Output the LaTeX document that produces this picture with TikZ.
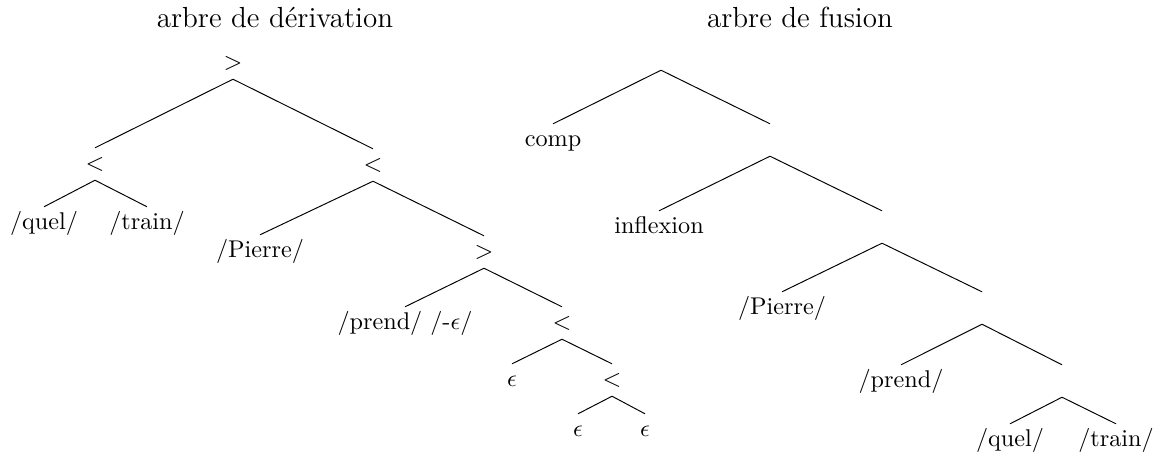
\documentclass[tikz,border=0pt]{standalone}
\usepackage{amsmath,amssymb}
\usepackage{tikz}

\tikzset{lab/.style={inner sep=1.5pt,text height=7.5pt,text depth=2.5pt}}

\begin{document}
\begin{tikzpicture}[x=0.4132pt,y=-0.4132pt]
\useasboundingbox (0,0) rectangle (1161,453);
% titres
\node[anchor=base] (titreD) at (275,27) {\large arbre de dérivation};
\node[anchor=base] (titreF) at (800,27) {\large arbre de fusion};
% arbre de derivation
\node[lab] (d0) at (233,63) {$>$};
\node[lab] (d1) at (95,164) {$<$};
\node[lab] (d2) at (373,165) {$<$};
\node[lab] (d11) at (44,223) {/quel/};
\node[lab] (d12) at (147,223) {/train/};
\node[lab] (d21) at (260,251) {/Pierre/};
\node[lab] (d22) at (484,252) {$>$};
\node[lab] (d221) at (405,323) {/prend/ /-$\epsilon$/};
\node[lab] (d222) at (562,323) {$<$};
\node[lab] (d2221) at (512,380) {$\epsilon$};
\node[lab] (d2222) at (612,380) {$<$};
\node[lab] (d22221) at (578,430) {$\epsilon$};
\node[lab] (d22222) at (645,430) {$\epsilon$};
% arbre de fusion
\node[lab] (f0) at (661,54) {};
\node[lab] (f1) at (553,140) {comp};
\node[lab] (f2) at (770,140) {};
\node[lab] (f3) at (659,227) {inflexion};
\node[lab] (f4) at (882,227) {};
\node[lab] (f5) at (782,308) {/Pierre/};
\node[lab] (f6) at (982,308) {};
\node[lab] (f7) at (901,381) {/prend/};
\node[lab] (f8) at (1062,381) {};
\node[lab] (f9) at (1010,440) {/quel/};
\node[lab] (f10) at (1116,440) {/train/};
% branches
\foreach \a/\b in {d0/d1,d0/d2,d1/d11,d1/d12,d2/d21,d2/d22,d22/d221,d22/d222,
  d222/d2221,d222/d2222,d2222/d22221,d2222/d22222,
  f0/f1,f0/f2,f2/f3,f2/f4,f4/f5,f4/f6,f6/f7,f6/f8,f8/f9,f8/f10}
  \draw (\a.south) -- (\b.north);
\end{tikzpicture}
\end{document}
